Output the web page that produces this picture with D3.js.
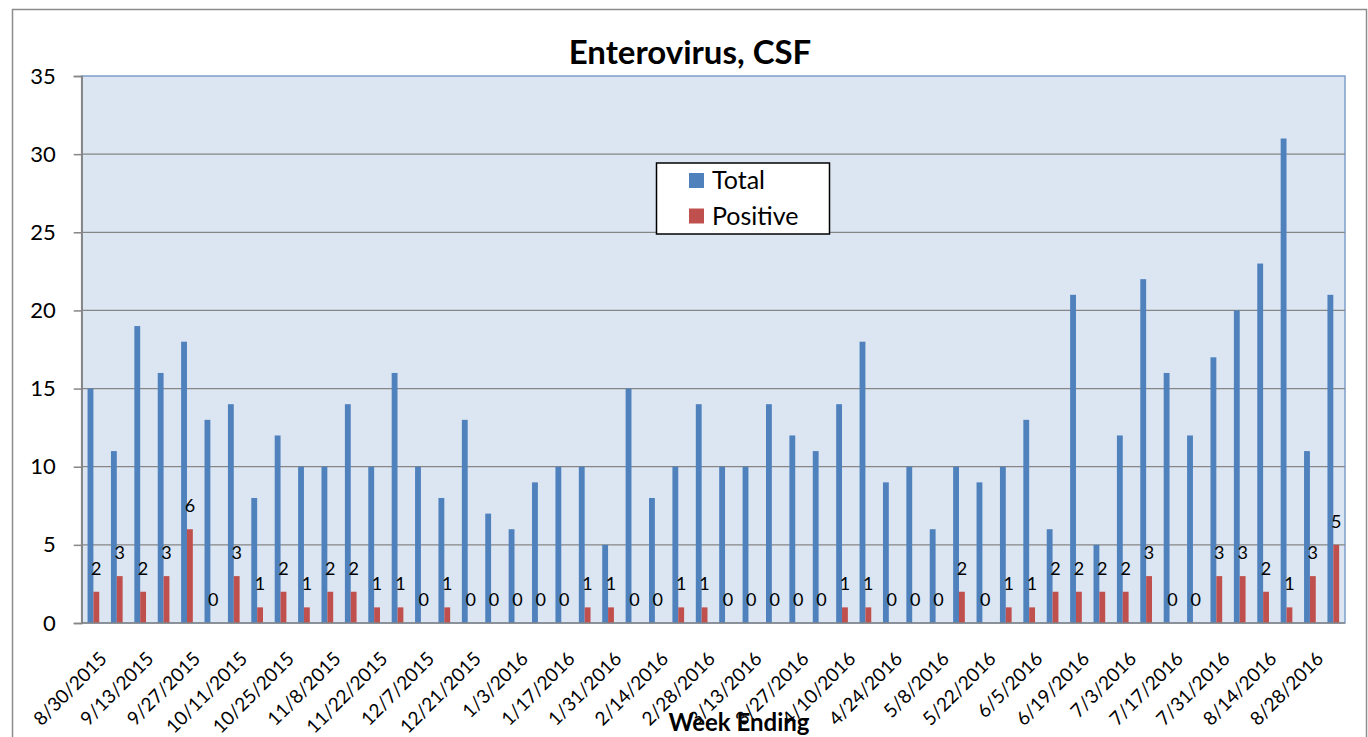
<!DOCTYPE html>
<html><head><meta charset="utf-8">
<script src="https://cdn.jsdelivr.net/npm/d3@7"></script>
<style>body{margin:0;background:#fff;} svg{display:block;}</style>
</head><body>
<svg id="chart" width="1368" height="737"></svg>
<script>
const weeks = ["8/30/2015","9/6/2015","9/13/2015","9/20/2015","9/27/2015","10/4/2015","10/11/2015","10/18/2015","10/25/2015","11/1/2015","11/8/2015","11/15/2015","11/22/2015","11/29/2015","12/7/2015","12/14/2015","12/21/2015","12/27/2015","1/3/2016","1/10/2016","1/17/2016","1/24/2016","1/31/2016","2/7/2016","2/14/2016","2/21/2016","2/28/2016","3/6/2016","3/13/2016","3/20/2016","3/27/2016","4/3/2016","4/10/2016","4/17/2016","4/24/2016","5/1/2016","5/8/2016","5/15/2016","5/22/2016","5/29/2016","6/5/2016","6/12/2016","6/19/2016","6/26/2016","7/3/2016","7/10/2016","7/17/2016","7/24/2016","7/31/2016","8/7/2016","8/14/2016","8/21/2016","8/28/2016","9/4/2016"];
const total = [15,11,19,16,18,13,14,8,12,10,10,14,10,16,10,8,13,7,6,
               9,10,10,5,15,8,10,14,10,10,14,12,11,14,18,9,10,6,
               10,9,10,13,6,21,5,12,22,16,12,17,20,23,31,11,21];
const positive = [2,3,2,3,6,0,3,1,2,1,2,2,1,1,0,1,0,0,0,
                  0,0,1,1,0,0,1,1,0,0,0,0,0,1,1,0,0,0,
                  2,0,1,1,2,2,2,2,3,0,0,3,3,2,1,3,5];
const seriesNames = ["Total","Positive"];
const seriesColors = ["#4F81BD","#C0504D"];
const yTicks = [0,5,10,15,20,25,30,35];
const xTickLabels = weeks.filter((d,i)=>i%2===0);

const FONT = "Lato, 'Open Sans', sans-serif";
const svg = d3.select("#chart");
const L = 81.7, R = 1345, T = 76, B = 623;

// outer chart border
svg.append("rect").attr("x",12.5).attr("y",9.5).attr("width",1354).attr("height",740)
  .attr("fill","#fff").attr("stroke","#8c8c8c").attr("stroke-width",1.5);

const x0 = d3.scaleBand().domain(weeks).range([L,R]).paddingInner(0.5).paddingOuter(0.25);
const x1 = d3.scaleBand().domain(seriesNames).range([0,x0.bandwidth()]);
const y = d3.scaleLinear().domain([0,35]).range([B,T]);
const step = x0.step();

// plot area
svg.append("rect").attr("x",L).attr("y",T).attr("width",R-L).attr("height",B-T)
  .attr("fill","#DCE6F2").attr("stroke","#7F9FCC").attr("stroke-width",1.5);

// gridlines
svg.append("g").selectAll("line").data(yTicks.filter(v=>v>0 && v<35)).join("line")
  .attr("x1",L).attr("x2",R).attr("y1",d=>y(d)).attr("y2",d=>y(d))
  .attr("stroke","#868686").attr("stroke-width",1.3);

// y axis
const yAxis = d3.axisLeft(y).tickValues(yTicks).tickSize(8).tickPadding(18).tickFormat(d3.format("d"));
const gy = svg.append("g").attr("transform",`translate(${L},0)`).call(yAxis);
gy.select(".domain").attr("stroke","#868686").attr("stroke-width",1.5);
gy.selectAll(".tick line").attr("stroke","#868686").attr("stroke-width",1.5);
gy.selectAll(".tick text").attr("font-family",FONT).attr("font-size",22).attr("fill","#000");

// bars
const groups = svg.append("g").selectAll("g").data(weeks).join("g")
  .attr("transform",d=>`translate(${x0(d)},0)`);
groups.selectAll("rect").data((d,i)=>[{s:"Total",v:total[i]},{s:"Positive",v:positive[i]}]).join("rect")
  .attr("x",d=>x1(d.s)).attr("width",x1.bandwidth())
  .attr("y",d=>y(d.v)).attr("height",d=>y(0)-y(d.v))
  .attr("fill",d=>seriesColors[seriesNames.indexOf(d.s)]);

// data labels on positive
groups.append("text")
  .attr("x",x1("Positive")+x1.bandwidth()/2)
  .attr("y",(d,i)=>y(positive[i])-17)
  .attr("text-anchor","middle")
  .attr("font-family",FONT).attr("font-size",18).attr("fill","#000")
  .text((d,i)=>positive[i]);

// x axis
const xAxis = d3.axisBottom(x0).tickValues(xTickLabels).tickSize(0).tickFormat(d=>d);
const gx = svg.append("g").attr("transform",`translate(0,${B})`).call(xAxis);
gx.select(".domain").attr("stroke","#868686").attr("stroke-width",1.5).attr("d",`M${L},0H${R}`);
gx.selectAll(".tick text")
  .attr("font-family",FONT).attr("font-size",19).attr("fill","#000")
  .attr("text-anchor","end").attr("dy",null).attr("y",null)
  .attr("transform",`translate(${step/2+3},37) rotate(-45)`);

// axis line redraw on top
svg.append("line").attr("x1",L).attr("x2",L).attr("y1",T).attr("y2",B).attr("stroke","#868686").attr("stroke-width",1.5);

// title
svg.append("text").attr("x",690).attr("y",64).attr("text-anchor","middle")
  .attr("font-family",FONT).attr("font-weight","bold").attr("font-size",33)
  .text("Enterovirus, CSF");

// x title
svg.append("text").attr("x",739).attr("y",731).attr("text-anchor","middle")
  .attr("font-family",FONT).attr("font-weight","bold").attr("font-size",24)
  .text("Week Ending");

// legend
const lg = svg.append("g");
lg.append("rect").attr("x",656.5).attr("y",163).attr("width",173).attr("height",71)
  .attr("fill","#fff").attr("stroke","#000").attr("stroke-width",1.5);
seriesNames.forEach((s,i)=>{
  const yy = 173 + i*35.5;
  lg.append("rect").attr("x",689).attr("y",yy).attr("width",15).attr("height",15).attr("fill",seriesColors[i]);
  lg.append("text").attr("x",712).attr("y",yy+16).attr("font-family",FONT)
    .attr("font-size",25).attr("fill","#000").text(s);
});
</script>
</body></html>
